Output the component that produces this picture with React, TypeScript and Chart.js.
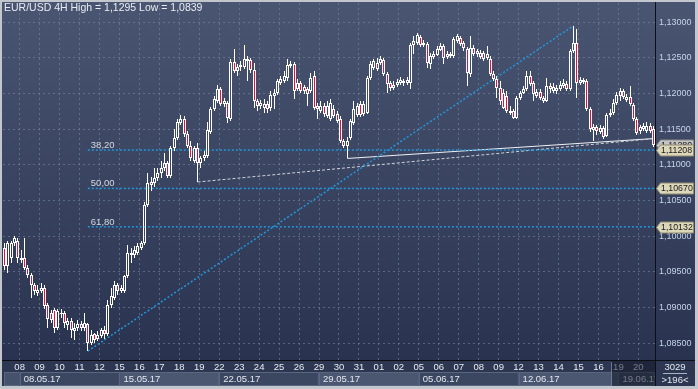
import React, { useEffect, useRef } from 'react';
import { Chart, registerables } from 'chart.js';
Chart.register(...registerables);

// ---- data (EUR/USD 4H) ----
const open = [1.0983,1.0958,1.0969,1.0990,1.0994,1.0966,1.0970,1.0956,1.0945,1.0931,1.0921,1.0923,1.0928,1.0904,1.0892,1.0896,1.0872,1.0891,1.0892,1.0875,1.0881,1.0867,1.0871,1.0877,1.0871,1.0877,1.0851,1.0863,1.0856,1.0860,1.0868,1.0863,1.0903,1.0914,1.0931,1.0923,1.0923,1.0944,1.0977,1.0973,1.0977,1.0983,1.0990,1.1044,1.1076,1.1074,1.1081,1.1088,1.1095,1.1103,1.1085,1.1123,1.1138,1.1159,1.1164,1.1143,1.1127,1.1106,1.1124,1.1102,1.1109,1.1113,1.1146,1.1178,1.1190,1.1206,1.1185,1.1187,1.1164,1.1244,1.1232,1.1237,1.1237,1.1245,1.1247,1.1233,1.1190,1.1183,1.1180,1.1185,1.1180,1.1197,1.1201,1.1215,1.1218,1.1222,1.1239,1.1241,1.1206,1.1215,1.1209,1.1206,1.1204,1.1225,1.1183,1.1176,1.1183,1.1169,1.1164,1.1178,1.1171,1.1164,1.1134,1.1127,1.1138,1.1159,1.1170,1.1185,1.1171,1.1173,1.1222,1.1236,1.1243,1.1243,1.1247,1.1227,1.1215,1.1208,1.1212,1.1215,1.1218,1.1215,1.1215,1.1268,1.1271,1.1279,1.1268,1.1269,1.1241,1.1251,1.1254,1.1261,1.1266,1.1251,1.1255,1.1252,1.1273,1.1278,1.1271,1.1262,1.1227,1.1264,1.1259,1.1251,1.1257,1.1250,1.1248,1.1227,1.1220,1.1208,1.1201,1.1197,1.1173,1.1176,1.1166,1.1194,1.1201,1.1206,1.1225,1.1215,1.1197,1.1202,1.1190,1.1190,1.1211,1.1204,1.1204,1.1206,1.1211,1.1213,1.1206,1.1259,1.1271,1.1215,1.1219,1.1218,1.1178,1.1149,1.1153,1.1146,1.1152,1.1141,1.1170,1.1173,1.1187,1.1197,1.1204,1.1191,1.1195,1.1184,1.1164,1.1148,1.1150,1.1148,1.1155,1.1150];
const high = [1.0991,1.0994,1.0994,1.1001,1.0998,1.0980,1.0997,1.0960,1.0948,1.0934,1.0932,1.0935,1.0931,1.0907,1.0896,1.0899,1.0898,1.0898,1.0895,1.0885,1.0885,1.0879,1.0882,1.0881,1.0892,1.0879,1.0868,1.0865,1.0867,1.0872,1.0874,1.0910,1.0928,1.0937,1.0934,1.0932,1.0946,1.0987,1.0983,1.0986,1.0990,1.0994,1.1048,1.1088,1.1083,1.1095,1.1095,1.1106,1.1116,1.1106,1.1127,1.1150,1.1164,1.1170,1.1169,1.1148,1.1134,1.1127,1.1131,1.1113,1.1120,1.1160,1.1181,1.1197,1.1212,1.1209,1.1194,1.1190,1.1248,1.1262,1.1241,1.1245,1.1268,1.1252,1.1250,1.1243,1.1192,1.1191,1.1192,1.1190,1.1204,1.1206,1.1220,1.1225,1.1232,1.1248,1.1245,1.1244,1.1220,1.1218,1.1212,1.1209,1.1229,1.1232,1.1187,1.1190,1.1187,1.1190,1.1192,1.1184,1.1176,1.1169,1.1136,1.1139,1.1164,1.1190,1.1187,1.1190,1.1190,1.1225,1.1245,1.1248,1.1250,1.1252,1.1250,1.1230,1.1218,1.1218,1.1220,1.1223,1.1220,1.1223,1.1271,1.1280,1.1285,1.1282,1.1275,1.1272,1.1257,1.1259,1.1266,1.1271,1.1269,1.1259,1.1258,1.1279,1.1283,1.1280,1.1273,1.1265,1.1280,1.1268,1.1262,1.1261,1.1259,1.1266,1.1252,1.1232,1.1225,1.1218,1.1206,1.1204,1.1183,1.1178,1.1197,1.1204,1.1211,1.1232,1.1232,1.1218,1.1206,1.1206,1.1197,1.1222,1.1215,1.1215,1.1212,1.1218,1.1220,1.1218,1.1262,1.1295,1.1290,1.1223,1.1222,1.1220,1.1181,1.1157,1.1156,1.1156,1.1155,1.1173,1.1178,1.1192,1.1202,1.1208,1.1206,1.1199,1.1211,1.1187,1.1167,1.1156,1.1159,1.1160,1.1159,1.1155];
const low = [1.0952,1.0948,1.0963,1.0986,1.0963,1.0963,1.0952,1.0941,1.0914,1.0918,1.0916,1.0920,1.0898,1.0872,1.0879,1.0865,1.0868,1.0886,1.0872,1.0868,1.0858,1.0854,1.0867,1.0867,1.0867,1.0839,1.0847,1.0850,1.0853,1.0857,1.0856,1.0860,1.0900,1.0911,1.0918,1.0920,1.0921,1.0941,1.0963,1.0969,1.0973,1.0980,1.0987,1.1041,1.1064,1.1069,1.1078,1.1082,1.1092,1.1081,1.1082,1.1120,1.1135,1.1156,1.1139,1.1123,1.1106,1.1103,1.1076,1.1095,1.1106,1.1110,1.1143,1.1176,1.1187,1.1183,1.1181,1.1159,1.1162,1.1229,1.1225,1.1232,1.1234,1.1218,1.1229,1.1180,1.1176,1.1178,1.1173,1.1173,1.1176,1.1178,1.1198,1.1212,1.1215,1.1218,1.1236,1.1192,1.1204,1.1201,1.1199,1.1183,1.1201,1.1177,1.1164,1.1173,1.1167,1.1166,1.1162,1.1166,1.1159,1.1131,1.1124,1.1109,1.1135,1.1156,1.1167,1.1167,1.1169,1.1171,1.1219,1.1233,1.1232,1.1240,1.1225,1.1201,1.1204,1.1205,1.1209,1.1212,1.1211,1.1212,1.1206,1.1255,1.1268,1.1265,1.1265,1.1236,1.1234,1.1248,1.1252,1.1259,1.1241,1.1248,1.1250,1.1250,1.1271,1.1266,1.1259,1.1211,1.1223,1.1252,1.1251,1.1248,1.1245,1.1247,1.1225,1.1218,1.1194,1.1184,1.1178,1.1173,1.1170,1.1164,1.1164,1.1191,1.1199,1.1204,1.1211,1.1190,1.1194,1.1191,1.1187,1.1188,1.1201,1.1201,1.1199,1.1204,1.1208,1.1204,1.1204,1.1257,1.1194,1.1212,1.1213,1.1176,1.1146,1.1134,1.1142,1.1143,1.1136,1.1139,1.1167,1.1170,1.1184,1.1190,1.1192,1.1188,1.1183,1.1162,1.1142,1.1143,1.1148,1.1145,1.1145,1.1125];
const close = [1.0958,1.0990,1.0990,1.0997,1.0969,1.0970,1.0956,1.0945,1.0931,1.0923,1.0925,1.0928,1.0902,1.0884,1.0882,1.0872,1.0895,1.0893,1.0878,1.0881,1.0868,1.0871,1.0877,1.0871,1.0879,1.0850,1.0861,1.0854,1.0861,1.0868,1.0863,1.0904,1.0916,1.0932,1.0923,1.0928,1.0944,1.0977,1.0973,1.0980,1.0986,1.0991,1.1044,1.1075,1.1072,1.1082,1.1089,1.1095,1.1103,1.1085,1.1123,1.1138,1.1160,1.1164,1.1143,1.1127,1.1109,1.1123,1.1102,1.1110,1.1114,1.1149,1.1178,1.1192,1.1206,1.1185,1.1190,1.1166,1.1244,1.1232,1.1237,1.1240,1.1248,1.1248,1.1233,1.1190,1.1183,1.1187,1.1185,1.1178,1.1198,1.1201,1.1218,1.1220,1.1225,1.1240,1.1241,1.1204,1.1215,1.1204,1.1204,1.1199,1.1222,1.1180,1.1178,1.1183,1.1171,1.1183,1.1187,1.1169,1.1162,1.1134,1.1127,1.1134,1.1162,1.1178,1.1183,1.1170,1.1185,1.1222,1.1241,1.1245,1.1234,1.1248,1.1227,1.1213,1.1208,1.1212,1.1216,1.1219,1.1215,1.1219,1.1268,1.1273,1.1282,1.1268,1.1271,1.1243,1.1252,1.1255,1.1262,1.1266,1.1250,1.1255,1.1252,1.1276,1.1280,1.1269,1.1264,1.1229,1.1264,1.1255,1.1255,1.1257,1.1248,1.1255,1.1227,1.1220,1.1208,1.1190,1.1180,1.1176,1.1176,1.1166,1.1194,1.1201,1.1206,1.1225,1.1213,1.1199,1.1202,1.1194,1.1194,1.1211,1.1206,1.1209,1.1208,1.1212,1.1215,1.1206,1.1259,1.1271,1.1215,1.1219,1.1216,1.1178,1.1150,1.1153,1.1148,1.1152,1.1139,1.1170,1.1173,1.1187,1.1198,1.1204,1.1195,1.1195,1.1185,1.1164,1.1145,1.1153,1.1155,1.1155,1.1148,1.1128];

const dayLabels = ['08','09','10','11','12','15','16','17','18','19','22','23','24','25','26','29','30','31','01','02','05','06','07','08','09','12','13','14','15','16','19','20'];
const weekLabels = ['08.05.17','15.05.17','22.05.17','29.05.17','05.06.17','12.06.17','19.06.17'];
const firstDayBar = 5;
const barsPerDay = 6;
const daysPerWeek = 5;

const fibLevels = [1.11208, 1.1067, 1.10132];
const fibLabels = ['38,20', '50,00', '61,80'];
const fibStartBar = 25;
const trendBlue = [{ x: 25, y: 1.0839 }, { x: 171, y: 1.1295 }];
const trendDashed = [{ x: 58, y: 1.1076 }, { x: 195.5, y: 1.1137 }];
const trendSolid = [{ x: 103, y: 1.1109 }, { x: 195.5, y: 1.1137 }];

const titleText = 'EUR/USD 4H High = 1,1295 Low = 1,0839';
const totalBars = 3029;
const yMin = 1.08265;
const yMax = 1.13269;
const yStep = 0.005;

const FONT = '"Liberation Sans", Arial, sans-serif';
const fmt = (v: number) => v.toFixed(5).replace('.', ',');

const snapBars = {
  id: 'snapBars',
  beforeDatasetsDraw(chart: any) {
    chart.data.datasets.forEach((ds: any, di: number) => {
      if (ds.type !== 'bar') return;
      const meta = chart.getDatasetMeta(di);
      meta.data.forEach((el: any) => {
        el.x = Math.floor(el.x) + 0.5;
        el.y = Math.round(el.y);
        el.base = Math.round(el.base);
        if (el.y === el.base) el.base += 1;
      });
    });
  },
};

const decor = {
  id: 'decor',
  beforeDraw(chart: any) {
    const { ctx, width, height, chartArea: ca } = chart;
    ctx.save();
    ctx.fillStyle = '#c2c6cd';
    ctx.fillRect(0, 0, width, height);
    const g = ctx.createLinearGradient(0, 2, 0, ca.bottom);
    g.addColorStop(0, '#4a5571');
    g.addColorStop(1, '#29334f');
    ctx.fillStyle = g;
    ctx.fillRect(2, 2, width - 5, ca.bottom - 2);
    ctx.fillStyle = '#2d3752';
    ctx.fillRect(2, ca.bottom, width - 5, height - 3 - ca.bottom);
    ctx.restore();
  },
  afterDatasetsDraw(chart: any) {
    const { ctx, scales } = chart;
    ctx.save();
    ctx.font = '9.5px ' + FONT;
    ctx.fillStyle = '#d4dae4';
    ctx.textBaseline = 'alphabetic';
    ctx.textAlign = 'left';
    fibLevels.forEach((lv, k) => {
      const y = scales.y.getPixelForValue(lv);
      const x = scales.x.getPixelForValue(fibStartBar) + 3;
      ctx.fillText(fibLabels[k], x, y - 2);
    });
    ctx.restore();
  },
  afterDraw(chart: any) {
    const { ctx, width, height, chartArea: ca, scales } = chart;
    const xs = scales.x;
    const ys = scales.y;
    ctx.save();
    // week cells
    const cellTop = ca.bottom + 12;
    const cellBot = height - 3;
    const firstX = xs.getPixelForValue(firstDayBar - 0.5);
    ctx.fillStyle = '#46516b';
    ctx.fillRect(4, cellTop, firstX - 4, cellBot - cellTop);
    ctx.strokeStyle = '#5a6580';
    ctx.lineWidth = 1;
    ctx.strokeRect(4.5, cellTop + 0.5, firstX - 4.5, cellBot - cellTop - 1);
    ctx.font = '9.5px ' + FONT;
    ctx.textBaseline = 'middle';
    ctx.textAlign = 'left';
    weekLabels.forEach((w, k) => {
      const a = xs.getPixelForValue(firstDayBar + k * daysPerWeek * barsPerDay - 0.5);
      const b = Math.min(ca.right, xs.getPixelForValue(firstDayBar + (k + 1) * daysPerWeek * barsPerDay - 0.5));
      ctx.fillStyle = k % 2 === 0 ? '#3b4661' : '#4b5671';
      ctx.fillRect(a, cellTop, b - a, cellBot - cellTop);
      ctx.strokeStyle = '#5a6580';
      ctx.strokeRect(Math.round(a) + 0.5, cellTop + 0.5, b - a - 1, cellBot - cellTop - 1);
      ctx.save();
      ctx.beginPath();
      ctx.rect(a, cellTop, b - a, cellBot - cellTop);
      ctx.clip();
      ctx.fillStyle = '#e2e8f0';
      ctx.fillText(w, a + 4, (cellTop + cellBot) / 2 + 0.5);
      ctx.restore();
    });
    // dim overlay at the end of the time axis
    const ovX = Math.round(xs.getPixelForValue(182.3));
    ctx.fillStyle = 'rgba(20,25,40,0.55)';
    ctx.fillRect(ovX, ca.bottom + 1, ca.right - ovX, height - 3 - ca.bottom - 1);
    ctx.fillStyle = '#6c7792';
    ctx.fillRect(ovX, ca.bottom + 2, 1, height - 5 - ca.bottom);
    // separators
    ctx.fillStyle = '#0c0f16';
    ctx.fillRect(2, Math.round(ca.bottom), width - 5, 1);
    ctx.fillRect(Math.round(ca.right), 2, 1, height - 5);
    // title
    ctx.font = '10.5px ' + FONT;
    ctx.fillStyle = '#e8ecf2';
    ctx.textBaseline = 'middle';
    ctx.textAlign = 'left';
    ctx.fillText(titleText, 4, 8.5);
    // bottom right box
    const cx = (ca.right + width - 3) / 2;
    ctx.font = '9.5px ' + FONT;
    ctx.textAlign = 'center';
    ctx.fillStyle = '#e2e8f0';
    ctx.fillText(String(totalBars), cx, ca.bottom + 7);
    ctx.fillStyle = '#aab4c4';
    ctx.fillRect(cx - 12, ca.bottom + 13, 24, 1);
    ctx.fillStyle = '#e2e8f0';
    ctx.fillText('>' + close.length + '<', cx, ca.bottom + 20);
    // price labels
    const tag = (v: number, fill: string, stroke: string) => {
      const y = Math.round(ys.getPixelForValue(v)) + 0.5;
      const x0 = ca.right + 1.5;
      ctx.beginPath();
      ctx.moveTo(x0, y);
      ctx.lineTo(x0 + 4, y - 5.5);
      ctx.lineTo(width - 4.5, y - 5.5);
      ctx.lineTo(width - 4.5, y + 5.5);
      ctx.lineTo(x0 + 4, y + 5.5);
      ctx.closePath();
      ctx.fillStyle = fill;
      ctx.fill();
      ctx.strokeStyle = stroke;
      ctx.lineWidth = 1;
      ctx.stroke();
      ctx.fillStyle = '#1a1a1a';
      ctx.textAlign = 'left';
      ctx.textBaseline = 'middle';
      ctx.font = '8.8px ' + FONT;
      ctx.fillText(fmt(v), x0 + 4.5, y + 0.5);
    };
    tag(close[close.length - 1], '#c4c4c4', '#8a8a8a');
    fibLevels.forEach((lv) => tag(lv, '#dcd7b8', '#8f8b72'));
    ctx.restore();
  },
};

export default function App() {
  const ref = useRef<HTMLCanvasElement>(null);
  useEffect(() => {
    document.body.style.margin = '0';
    const n = close.length;
    const idx = Array.from({ length: n }, (_, i) => i);
    const bodies = idx.map((i) => {
      let lo = Math.min(open[i], close[i]);
      let hi = Math.max(open[i], close[i]);
      if (hi - lo < 0.00002) { hi += 0.00001; lo -= 0.00001; }
      return { x: i, y: [lo, hi] };
    });
    const upW = idx.map((i) => ({ x: i, y: [Math.max(open[i], close[i]), high[i]] }));
    const dnW = idx.map((i) => ({ x: i, y: [low[i], Math.min(open[i], close[i])] }));
    const bodyFill = idx.map((i) => (close[i] < open[i] ? '#e5103a' : 'rgba(0,0,0,0)'));

    const lineDs = (data: any[], color: string, w: number, dash: number[]) => ({
      type: 'line' as const,
      data,
      borderColor: color,
      borderWidth: w,
      borderDash: dash,
      pointRadius: 0,
      fill: false,
      order: 5,
    });

    const chart = new Chart(ref.current as HTMLCanvasElement, {
      type: 'bar',
      data: {
        datasets: [
          ...fibLevels.map((lv) => lineDs([{ x: fibStartBar, y: lv }, { x: n - 0.5, y: lv }], '#1f97de', 1.5, [2, 2])),
          lineDs(trendBlue, '#1f97de', 1.5, [2, 2]),
          lineDs(trendDashed, '#cfd3da', 1, [3, 2]),
          lineDs(trendSolid, '#eef0f3', 1, []),
          { type: 'bar', data: upW, backgroundColor: '#ffffff', borderWidth: 0, barThickness: 1, grouped: false, order: 2, inflateAmount: 0 } as any,
          { type: 'bar', data: dnW, backgroundColor: '#ffffff', borderWidth: 0, barThickness: 1, grouped: false, order: 2, inflateAmount: 0 } as any,
          { type: 'bar', data: bodies, backgroundColor: bodyFill, borderColor: '#ffffff', borderWidth: 1, borderSkipped: false, barThickness: 3, grouped: false, order: 1, inflateAmount: 0 } as any,
        ],
      },
      options: {
        responsive: false,
        animation: false,
        devicePixelRatio: 1,
        events: [],
        layout: { padding: { left: 3, top: 3, right: 0, bottom: 0 } },
        plugins: { legend: { display: false }, tooltip: { enabled: false } },
        scales: {
          x: {
            type: 'linear',
            min: -0.5,
            max: n - 0.5,
            offset: false,
            grid: { color: 'rgba(125,138,168,0.55)', drawTicks: false, offset: false },
            border: { display: false, dash: [2, 3] },
            afterBuildTicks: (s: any) => {
              s.ticks = dayLabels.map((_, k) => ({ value: firstDayBar + k * barsPerDay - 0.5 }));
            },
            afterFit: (s: any) => { s.height = 29; s.paddingLeft = 0; s.paddingRight = 0; },
            ticks: {
              autoSkip: false,
              maxRotation: 0,
              padding: 2,
              color: '#e6ebf2',
              font: { family: FONT, size: 9.5 },
              callback: (_v: any, i: number) => dayLabels[i],
            },
          },
          y: {
            type: 'linear',
            position: 'right',
            min: yMin,
            max: yMax,
            beginAtZero: false,
            grid: { color: 'rgba(125,138,168,0.55)', drawTicks: false },
            border: { display: false, dash: [2, 3] },
            afterFit: (s: any) => { s.width = 43; s.paddingTop = 0; s.paddingBottom = 0; },
            ticks: {
              stepSize: yStep,
              includeBounds: false,
              padding: 4,
              color: '#c6d4ea',
              font: { family: FONT, size: 9 },
              callback: (v: any) => fmt(Number(v)),
            },
          },
        },
      } as any,
      plugins: [snapBars, decor],
    });
    return () => chart.destroy();
  }, []);
  return (
    <div style={{ position: 'absolute', left: 0, top: 0, width: 698, height: 389 }}>
      <canvas ref={ref} width={698} height={389} style={{ display: 'block', width: 698, height: 389 }} />
    </div>
  );
}
